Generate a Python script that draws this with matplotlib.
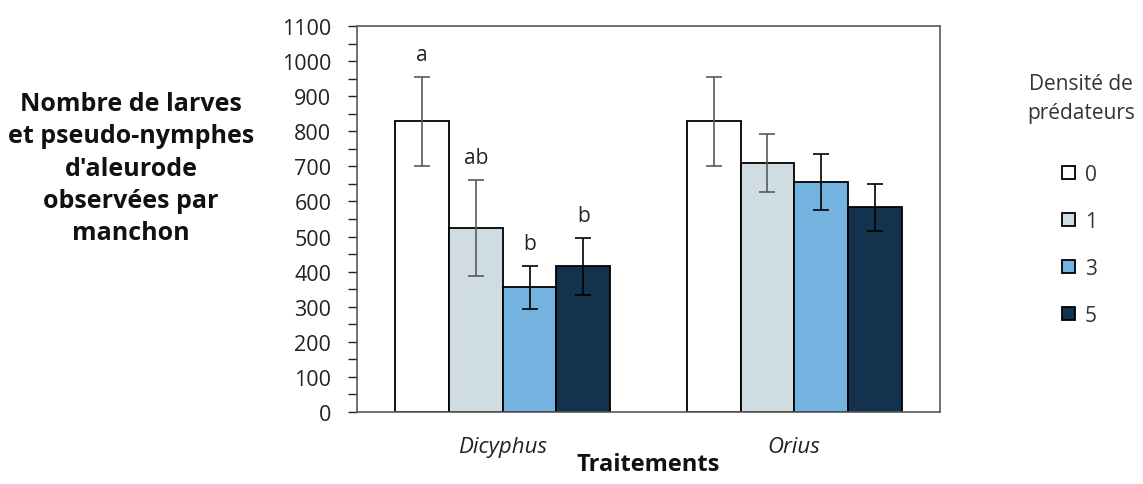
import matplotlib
matplotlib.use("Agg")
import matplotlib.pyplot as plt
from matplotlib.ticker import MultipleLocator
from matplotlib.patches import Patch
import numpy as np

plt.rcParams['font.family'] = ['Open Sans', 'DejaVu Sans']

# donnees
traitements = ['Dicyphus', 'Orius']
densites = ['0', '1', '3', '5']
moyennes = [[828, 828], [525, 710], [355, 655], [415, 583]]
erreurs = [[128, 128], [137, 83], [62, 80], [82, 67]]
lettres = ['a', 'ab', 'b', 'b']  # groupes Dicyphus seulement

couleurs = ['#FFFFFF', '#CFDDE3', '#74B3E0', '#12324D']
couleurs_err = ['#595959', '#595959', '#000000', '#000000']

fig = plt.figure(figsize=(11.43, 4.85), dpi=100)
ax = fig.add_axes([357/1143, 1-413/485, 583/1143, 386/485])

x = np.arange(len(traitements))
w = 0.184
for i in range(len(densites)):
    pos = x + (i - 1.5)*w
    ax.bar(pos, moyennes[i], w, color=couleurs[i], edgecolor='black', linewidth=1.3, zorder=2)
    ax.errorbar(pos, moyennes[i], yerr=erreurs[i], fmt='none', ecolor=couleurs_err[i], elinewidth=1.2, capsize=6, capthick=1.2, zorder=3)
    ax.text(pos[0], moyennes[i][0] + erreurs[i][0] + 33, lettres[i], ha='center', va='bottom', fontsize=15, color='#222222')

ax.set_xlim(-0.5, 1.5)
ax.set_ylim(0, 1100)
ax.yaxis.set_major_locator(MultipleLocator(100))
ax.yaxis.set_minor_locator(MultipleLocator(50))
ax.tick_params(axis='y', which='major', length=6.5, labelsize=15.5, colors='#222222', width=1, pad=12)
ax.tick_params(axis='y', which='minor', length=6.5, width=1, color='#222222')
ax.set_xticks(x)
ax.set_xticklabels(traitements, fontstyle='italic', fontsize=16, color='#222222')
ax.tick_params(axis='x', length=0, pad=17)
for s in ax.spines.values():
    s.set_color('#595959')
    s.set_linewidth(1.2)

ax.set_xlabel('Traitements', fontsize=17, fontweight='bold', labelpad=-3, color='#111111')
fig.text(131/1143, 1-169/485, "Nombre de larves\net pseudo-nymphes\nd'aleurode\nobservées par\nmanchon",
         ha='center', va='center', fontsize=18, fontweight='bold', linespacing=1.38, color='#111111')

# legende
fig.text(1081/1143, 1-99/485, 'Densité de\nprédateurs', ha='center', va='center', fontsize=15,
         linespacing=1.55, color='#333333')
poignees = [Patch(facecolor=couleurs[i], edgecolor='black', linewidth=1.3) for i in range(len(densites))]
fig.legend(poignees, densites, loc='upper left', bbox_to_anchor=(1062/1143, 1-165/485), frameon=False,
           fontsize=15, handlelength=0.6, handleheight=0.6, labelspacing=1.25, handletextpad=0.5,
           borderpad=0, borderaxespad=0, labelcolor='#333333')

fig.savefig('out.png', dpi=100)
